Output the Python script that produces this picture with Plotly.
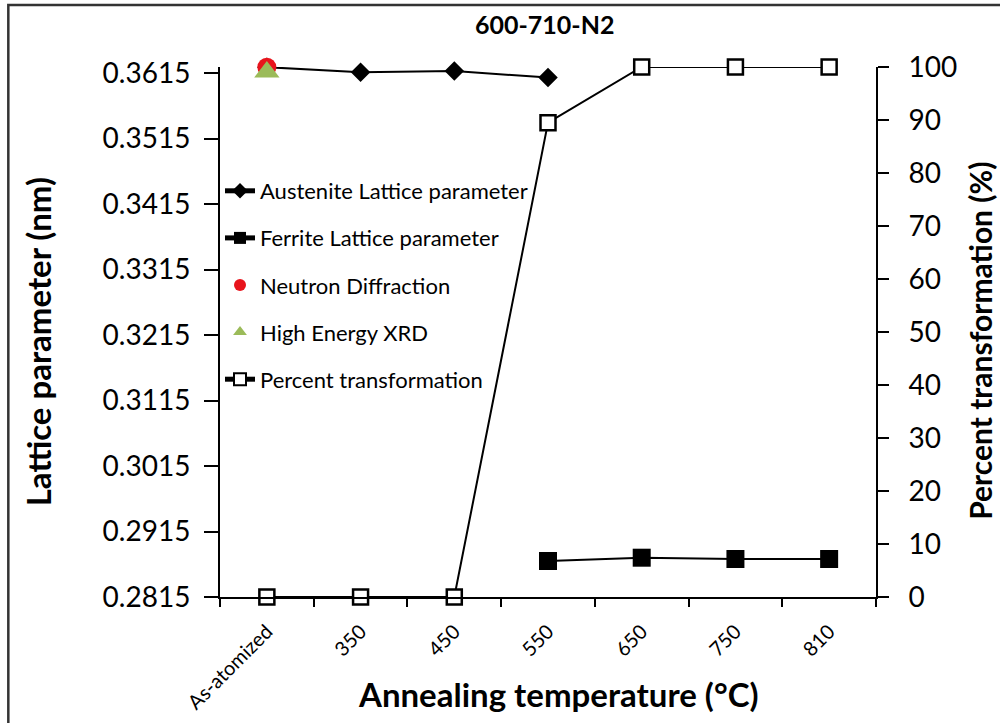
import plotly.graph_objects as go

categories = ["As-atomized", "350", "450", "550", "650", "750", "810"]

austenite_x = ["As-atomized", "350", "450", "550"]
austenite_y = [0.3624, 0.3616, 0.3618, 0.3608]

ferrite_x = ["550", "650", "750", "810"]
ferrite_y = [0.2870, 0.2875, 0.2873, 0.2873]

neutron_x = ["As-atomized"]
neutron_y = [0.3624]

xrd_x = ["As-atomized"]
xrd_y = [0.36165]

percent_x = categories
percent_y = [0, 0, 0, 89.5, 100, 100, 100]

left_tickvals = [0.2815, 0.2915, 0.3015, 0.3115, 0.3215, 0.3315, 0.3415, 0.3515, 0.3615]
left_ticktext = ["0.2815", "0.2915", "0.3015", "0.3115", "0.3215", "0.3315", "0.3415", "0.3515", "0.3615"]
right_tickvals = [0, 10, 20, 30, 40, 50, 60, 70, 80, 90, 100]

FONT = "Lato"

fig = go.Figure()
fig.add_trace(go.Scatter(
    x=austenite_x, y=austenite_y, name="Austenite Lattice parameter",
    mode="lines+markers", line=dict(color="black", width=2),
    marker=dict(symbol="diamond", size=15, color="black"),
    legendgroup="a", cliponaxis=False))
fig.add_trace(go.Scatter(
    x=ferrite_x, y=ferrite_y, name="Ferrite Lattice parameter",
    mode="lines+markers", line=dict(color="black", width=2),
    marker=dict(symbol="square", size=18, color="black"),
    legendgroup="b", cliponaxis=False))
fig.add_trace(go.Scatter(
    x=neutron_x, y=neutron_y, name="Neutron Diffraction",
    mode="markers", marker=dict(symbol="circle", size=19, color="#E8141C"),
    legendgroup="c", cliponaxis=False))
fig.add_trace(go.Scatter(
    x=xrd_x, y=xrd_y, name="High Energy XRD",
    mode="markers", marker=dict(symbol="triangle-up", size=22, color="#9BBB59"),
    legendgroup="d", cliponaxis=False))
fig.add_trace(go.Scatter(
    x=percent_x, y=percent_y, name="Percent transformation", yaxis="y2",
    mode="lines+markers", line=dict(color="black", width=2),
    marker=dict(symbol="square", size=15, color="white",
                line=dict(color="black", width=2.5)),
    legendgroup="e", cliponaxis=False))

fig.update_layout(
    width=1000, height=723,
    margin=dict(l=220, r=124, t=67, b=126, autoexpand=False),
    paper_bgcolor="white", plot_bgcolor="white",
    font=dict(family=FONT, color="black"),
    xaxis=dict(type="category", categoryorder="array", categoryarray=categories,
               range=[-0.5, 6.5], showline=True, linecolor="black", linewidth=2,
               ticks="outside", tickson="boundaries", ticklen=8, tickwidth=2,
               tickcolor="black", tickangle=-45, tickfont=dict(size=20),
               showgrid=False, zeroline=False, ticklabelstandoff=13, automargin=False),
    yaxis=dict(range=[0.2815, 0.36242], tickvals=left_tickvals, ticktext=left_ticktext,
               showline=True, linecolor="black", linewidth=2, ticks="outside",
               ticklen=14, tickwidth=2, tickcolor="black", tickfont=dict(size=28),
               showgrid=False, zeroline=False, ticklabelstandoff=8, automargin=False),
    yaxis2=dict(range=[0, 100], tickvals=right_tickvals, overlaying="y", side="right",
                showline=True, linecolor="black", linewidth=2, ticks="outside",
                ticklen=11, tickwidth=2, tickcolor="black", tickfont=dict(size=28),
                showgrid=False, zeroline=False, ticklabelstandoff=14, automargin=False),
    legend=dict(x=0.0, y=(597 - 170) / 530, xanchor="left", yanchor="top",
                bgcolor="rgba(0,0,0,0)", font=dict(size=22, family=FONT),
                tracegroupgap=15.5, itemsizing="constant", traceorder="grouped"),
    showlegend=True,
)

fig.add_annotation(text="<b>600-710-N2</b>", xref="paper", yref="paper",
                   x=(545 - 220) / 657, y=(597 - 24) / 530, xanchor="center", yanchor="middle",
                   showarrow=False, font=dict(size=25, family=FONT))
fig.add_annotation(text="<b>Lattice parameter (nm)</b>", textangle=-90,
                   xref="paper", yref="paper", x=(38 - 220) / 657, y=(597 - 342) / 530,
                   xanchor="center", yanchor="middle",
                   showarrow=False, font=dict(size=33, family=FONT))
fig.add_annotation(text="<b>Percent transformation (%)</b>", textangle=-90,
                   xref="paper", yref="paper", x=(981 - 220) / 657, y=(597 - 341) / 530,
                   xanchor="center", yanchor="middle",
                   showarrow=False, font=dict(size=30, family=FONT))
fig.add_annotation(text="<b>Annealing temperature (°C)</b>",
                   xref="paper", yref="paper", x=(559 - 220) / 657, y=(597 - 694) / 530,
                   xanchor="center", yanchor="middle",
                   showarrow=False, font=dict(size=33, family=FONT))

fig.add_shape(type="rect", xref="paper", yref="paper",
              x0=(8 - 220) / 657, x1=(1020 - 220) / 657,
              y0=(597 - 740) / 530, y1=(597 - 5) / 530,
              line=dict(color="#333333", width=2.5), fillcolor="rgba(0,0,0,0)", layer="below")

fig.write_html("out.html")
